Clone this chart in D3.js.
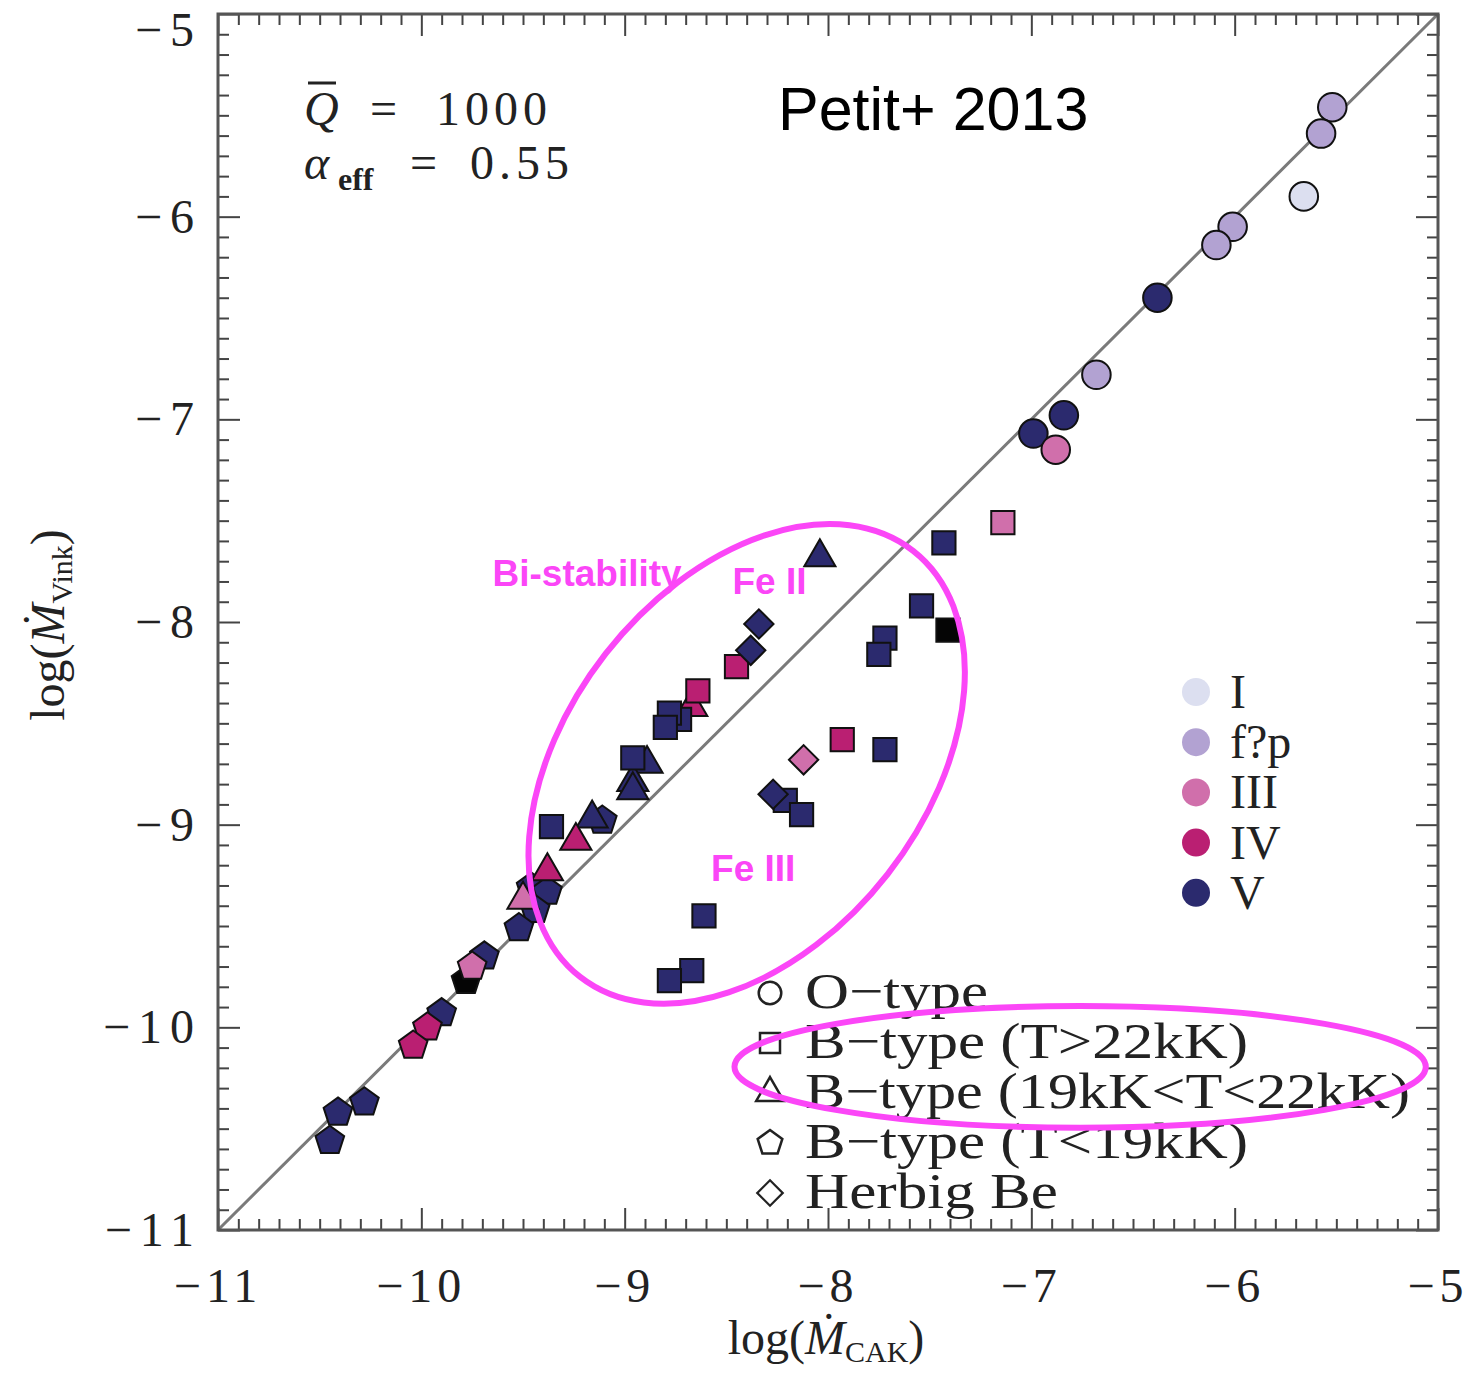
<!DOCTYPE html>
<html>
<head>
<meta charset="utf-8">
<script src="https://cdn.jsdelivr.net/npm/d3@7"></script>
<style>
  body { margin: 0; background: #fff; }
  text { font-family: "Liberation Serif", "DejaVu Serif", serif; }
  text.sans { font-family: "Liberation Sans", Arial, sans-serif; }
</style>
</head>
<body>
<div id="chart"></div>
<script>
// log Mdot values: [log Mdot_CAK, log Mdot_Vink, luminosity class]
const oType = [
  [-5.52, -5.46, "fp"], [-5.575, -5.59, "fp"], [-5.66, -5.90, "I"],
  [-6.01, -6.05, "fp"], [-6.09, -6.14, "fp"], [-6.38, -6.40, "V"],
  [-6.68, -6.78, "fp"], [-6.84, -6.98, "V"], [-6.99, -7.07, "V"],
  [-6.88, -7.15, "III"]
];
const bHot = [
  [-7.14, -7.51, "III"], [-7.43, -7.61, "V"], [-7.41, -8.04, "black"],
  [-7.54, -7.92, "V"], [-7.72, -8.08, "V"], [-7.75, -8.16, "V"],
  [-7.72, -8.63, "V"], [-7.93, -8.58, "IV"], [-8.21, -8.88, "V"],
  [-8.13, -8.95, "V"], [-8.45, -8.22, "IV"], [-8.64, -8.34, "IV"],
  [-8.73, -8.48, "V"], [-8.78, -8.45, "V"], [-8.80, -8.52, "V"],
  [-8.96, -8.67, "V"], [-9.36, -9.01, "V"], [-8.61, -9.45, "V"],
  [-8.67, -9.72, "V"], [-8.78, -9.77, "V"]
];
const bMid = [
  [-8.04, -7.68, "V"], [-8.67, -8.42, "IV"], [-8.89, -8.70, "V"],
  [-8.96, -8.79, "V"], [-8.96, -8.83, "V"], [-9.16, -8.97, "V"],
  [-9.24, -9.08, "IV"], [-9.38, -9.23, "IV"], [-9.50, -9.37, "III"]
];
const bCool = [
  [-9.11, -8.98, "V"], [-9.46, -9.31, "V"], [-9.38, -9.33, "V"],
  [-9.44, -9.42, "V"], [-9.52, -9.51, "V"], [-9.69, -9.65, "V"],
  [-9.78, -9.77, "black"], [-9.75, -9.70, "III"], [-9.90, -9.93, "V"],
  [-9.97, -10.00, "IV"], [-10.04, -10.09, "IV"], [-10.28, -10.37, "V"],
  [-10.41, -10.42, "V"], [-10.45, -10.56, "V"]
];
const herbig = [
  [-8.34, -8.01, "V"], [-8.38, -8.14, "V"], [-8.27, -8.85, "V"], [-8.12, -8.68, "III"]
];

const classNames = ["I", "f?p", "III", "IV", "V"];
const classKeys = ["I", "fp", "III", "IV", "V"];
const typeLabels = ["O\u2212type", "B\u2212type (T>22kK)", "B\u2212type (19kK<T<22kK)", "B\u2212type (T<19kK)", "Herbig Be"];
const majorTicks = [-11, -10, -9, -8, -7, -6, -5];

const width = 1473, height = 1374;
const margin = {top: 14, right: 35, bottom: 144, left: 218};

const colour = d3.scaleOrdinal()
  .domain(["I", "fp", "III", "IV", "V", "black"])
  .range(["#dcdff0", "#b2a2d2", "#d06fab", "#ba1f72", "#2b2a6e", "#050505"]);

const x = d3.scaleLinear().domain([-11, -5]).range([margin.left, width - margin.right]);
const y = d3.scaleLinear().domain([-11, -5]).range([height - margin.bottom, margin.top]);

const svg = d3.select("#chart").append("svg")
  .attr("width", width).attr("height", height);

// diagonal 1:1 line
svg.append("line")
  .attr("x1", x(-11)).attr("y1", y(-11)).attr("x2", x(-5)).attr("y2", y(-5))
  .attr("stroke", "#7a7a7a").attr("stroke-width", 3);

// axes on all four sides, ticks pointing inward
const minorTicks = d3.range(-110, -49).map(d => d / 10).filter(d => Math.abs(d - Math.round(d)) > 1e-6);
const tickFmt = d => "\u2212" + Math.abs(d);

function drawAxis(axisFn, scale, transform, size, values) {
  const g = svg.append("g").attr("transform", transform)
    .call(axisFn(scale).tickValues(values).tickSize(size).tickFormat(""));
  g.select(".domain").remove();
  g.selectAll(".tick line").attr("stroke", "#444").attr("stroke-width", 2);
  return g;
}
const bottom = height - margin.bottom, right = width - margin.right;
[[22, majorTicks], [11, minorTicks]].forEach(([len, vals]) => {
  drawAxis(d3.axisBottom, x, `translate(0,${bottom})`, -len, vals);
  drawAxis(d3.axisTop, x, `translate(0,${margin.top})`, -len, vals);
  drawAxis(d3.axisLeft, y, `translate(${margin.left},0)`, -len, vals);
  drawAxis(d3.axisRight, y, `translate(${right},0)`, -len, vals);
});

// tick labels
svg.append("g").selectAll("text").data(majorTicks).join("text")
  .attr("x", d => x(d)).attr("y", bottom + 72)
  .attr("text-anchor", "middle").attr("font-size", 48).attr("letter-spacing", 5)
  .attr("fill", "#222").text(tickFmt);
svg.append("g").selectAll("text").data(majorTicks).join("text")
  .attr("x", margin.left - 16).attr("y", d => y(d) + (d === -5 ? 32 : 16))
  .attr("text-anchor", "end").attr("font-size", 48).attr("letter-spacing", 8)
  .attr("fill", "#222").text(tickFmt);

// frame
svg.append("rect")
  .attr("x", margin.left).attr("y", margin.top)
  .attr("width", right - margin.left).attr("height", bottom - margin.top)
  .attr("fill", "none").attr("stroke", "#555").attr("stroke-width", 3);

// axis titles
const xt = svg.append("text").attr("x", 826).attr("y", 1354)
  .attr("text-anchor", "middle").attr("font-size", 48).attr("fill", "#222");
xt.append("tspan").text("log(");
xt.append("tspan").attr("font-style", "italic").text("\u1E40");
xt.append("tspan").attr("font-size", 30).attr("dy", 8).text("CAK");
xt.append("tspan").attr("dy", -8).text(")");

const yt = svg.append("text").attr("transform", "translate(64,625) rotate(-90)")
  .attr("text-anchor", "middle").attr("font-size", 48).attr("fill", "#222");
yt.append("tspan").text("log(");
yt.append("tspan").attr("font-style", "italic").text("\u1E40");
yt.append("tspan").attr("font-size", 30).attr("dy", 8).text("Vink");
yt.append("tspan").attr("dy", -8).text(")");

// marker shapes
const pentagon = {
  draw(context, size) {
    const r = Math.sqrt(size / 2.378);
    for (let i = 0; i < 5; i++) {
      const a = -Math.PI / 2 + i * 2 * Math.PI / 5;
      const px = r * Math.cos(a), py = r * Math.sin(a);
      if (i === 0) context.moveTo(px, py); else context.lineTo(px, py);
    }
    context.closePath();
  }
};

const series = [
  {data: bCool, type: pentagon, size: 540, rot: 0},
  {data: bMid, type: d3.symbolTriangle, size: 420, rot: 0},
  {data: bHot, type: d3.symbolSquare, size: 540, rot: 0},
  {data: herbig, type: d3.symbolSquare, size: 430, rot: 45},
  {data: oType, type: d3.symbolCircle, size: 640, rot: 0}
];

series.forEach(s => {
  svg.append("g").selectAll("path").data(s.data).join("path")
    .attr("d", d3.symbol().type(s.type).size(s.size))
    .attr("transform", d => `translate(${x(d[0])},${y(d[1])}) rotate(${s.rot})`)
    .attr("fill", d => colour(d[2]))
    .attr("stroke", "#111").attr("stroke-width", 2);
});

// top-left parameters
const q = svg.append("text").attr("y", 125).attr("font-size", 48).attr("fill", "#222");
q.append("tspan").attr("x", 304).attr("font-style", "italic").text("Q");
q.append("tspan").attr("x", 370).text("=");
q.append("tspan").attr("x", 436).attr("letter-spacing", 5).text("1000");
svg.append("line").attr("x1", 308).attr("x2", 336).attr("y1", 83).attr("y2", 83)
  .attr("stroke", "#222").attr("stroke-width", 3);
const al = svg.append("text").attr("y", 179).attr("font-size", 48).attr("fill", "#222");
al.append("tspan").attr("x", 304).attr("font-style", "italic").text("\u03B1");
al.append("tspan").attr("x", 338).attr("y", 190).attr("font-size", 32).attr("font-weight", "bold").text("eff");
al.append("tspan").attr("x", 410).attr("y", 179).text("=");
al.append("tspan").attr("x", 470).attr("letter-spacing", 5).text("0.55");

svg.append("text").attr("class", "sans").attr("x", 778).attr("y", 130)
  .attr("font-size", 61).attr("fill", "#000").text("Petit+ 2013");

// luminosity class legend
const lg = svg.append("g").selectAll("g").data(classKeys).join("g")
  .attr("transform", (d, i) => `translate(1196,${692 + i * 50.2})`);
lg.append("circle").attr("r", 14).attr("fill", d => colour(d));
lg.append("text").attr("x", 34).attr("y", 16).attr("font-size", 48).attr("fill", "#222")
  .text((d, i) => classNames[i]);

// spectral type legend
const typeShapes = [d3.symbolCircle, d3.symbolSquare, d3.symbolTriangle, pentagon, d3.symbolSquare];
const typeWidths = [183, 443, 605, 443, 253];
const tg = svg.append("g").selectAll("g").data(typeLabels).join("g")
  .attr("transform", (d, i) => `translate(770,${993 + i * 50})`);
tg.append("path")
  .attr("d", (d, i) => d3.symbol().type(typeShapes[i]).size(i === 2 ? 330 : 400)())
  .attr("transform", (d, i) => i === 4 ? "rotate(45) scale(0.9)" : "")
  .attr("fill", "none").attr("stroke", "#222").attr("stroke-width", 2.5);
tg.append("text").attr("x", 35).attr("y", 15).attr("font-size", 50).attr("fill", "#222")
  .attr("textLength", (d, i) => typeWidths[i]).attr("lengthAdjust", "spacingAndGlyphs")
  .text(d => d);

// magenta annotations
const pink = "#fb46f7";
const e1 = {cx: -8.40, cy: -8.70, a: 1.33, b: 0.88, rot: -52};
svg.append("ellipse")
  .attr("transform", `translate(${x(e1.cx)},${y(e1.cy)}) rotate(${e1.rot})`)
  .attr("rx", x(e1.cx + e1.a) - x(e1.cx)).attr("ry", x(e1.cx + e1.b) - x(e1.cx))
  .attr("fill", "none").attr("stroke", pink).attr("stroke-width", 6);
const e2 = {cx: -6.76, cy: -10.195, a: 1.70, b: 0.30};
svg.append("ellipse")
  .attr("cx", x(e2.cx)).attr("cy", y(e2.cy))
  .attr("rx", x(e2.cx + e2.a) - x(e2.cx)).attr("ry", y(e2.cy - e2.b) - y(e2.cy))
  .attr("fill", "none").attr("stroke", pink).attr("stroke-width", 6);

const notes = [["Bi-stability", -9.65, -7.82], ["Fe II", -8.47, -7.86], ["Fe III", -8.575, -9.28]];
svg.append("g").selectAll("text").data(notes).join("text")
  .attr("class", "sans").attr("font-weight", "bold")
  .attr("x", d => x(d[1])).attr("y", d => y(d[2]))
  .attr("font-size", 37).attr("fill", pink).text(d => d[0]);
</script>
</body>
</html>
